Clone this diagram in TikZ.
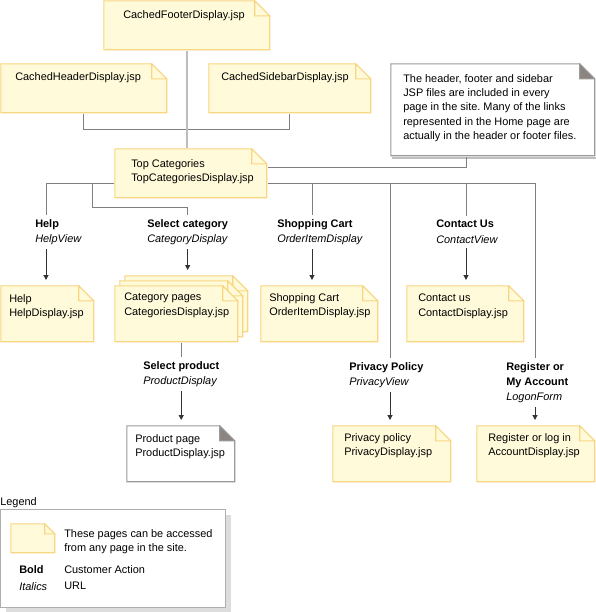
\documentclass[tikz,border=0pt]{standalone}
\usepackage{fontspec}
\setmainfont{Liberation Sans}
\frenchspacing
\usetikzlibrary{arrows.meta}
\usetikzlibrary{shadows}
\definecolor{pagefill}{HTML}{FFFBDA}
\definecolor{pageline}{HTML}{F8D581}
\definecolor{linkgray}{HTML}{7F7F7F}
\definecolor{cachegray}{HTML}{BDBDBD}
\definecolor{foldgray}{HTML}{8C8480}
\definecolor{boxline}{HTML}{9A9A9A}
\definecolor{shadowgray}{HTML}{DDDDDD}
\newcommand{\notefont}{\fontsize{8.2}{10.8}\selectfont}
\newcommand{\actfont}{\fontsize{8.2}{11.5}\selectfont}
\tikzset{
	fold size/.store in=\foldsize, fold size=11.25pt,
	dogear/.style n args={3}{anchor=north west, inner sep=0pt, shape=rectangle,
		path picture={
			\path (path picture bounding box.north west) ++(0.4pt,-0.4pt) coordinate (pnw)
			      (path picture bounding box.south east) ++(-0.4pt,0.4pt) coordinate (pse);
			\coordinate (pne) at (pnw -| pse);
			\coordinate (psw) at (pnw |- pse);
			\filldraw[fill=#1, draw=#2, line width=0.8pt]
				(pnw) -- ([xshift=-\foldsize]pne) -- ([yshift=-\foldsize]pne) -- (pse) -- (psw) -- cycle;
			\filldraw[fill=#3, draw=#2, line width=0.8pt]
				([xshift=-\foldsize]pne) -- ++(0pt,-\foldsize) -- ([yshift=-\foldsize]pne) -- cycle;
		}},
	jsp/.style 2 args={dogear={pagefill}{pageline}{pagefill}, minimum width=#1*0.75pt, minimum height=#2*0.75pt},
	info/.style 2 args={dogear={white}{boxline}{foldgray}, minimum width=#1*0.75pt, minimum height=#2*0.75pt},
	% text of a page, set in from its top left corner (in pixels)
	pagetext/.style 2 args={anchor=north west, align=left, inner sep=0pt, font=\notefont,
		xshift=#1*0.75pt, yshift=-#2*0.75pt},
	action/.style={anchor=north west, align=left, inner xsep=0pt, inner ysep=3pt, font=\actfont},
	link/.style={draw=linkgray, line width=0.75pt},
	cache/.style={draw=cachegray, line width=1.5pt},
	flow/.style={->, draw=black!80, line width=0.75pt, shorten >=3.75pt},
	legend box/.style={anchor=north west, draw=boxline!80, fill=white, inner sep=0pt, line width=0.75pt,
		minimum width=225*0.75pt, minimum height=98*0.75pt,
		drop shadow={shadow xshift=4pt, shadow yshift=-4pt, fill=shadowgray, opacity=1}},
	legend text/.style={anchor=north west, align=left, inner sep=0pt, font=\notefont}
}

\begin{document}
\begin{tikzpicture}[x=0.75pt,y=-0.75pt,>={Triangle[length=3.6pt,width=3.6pt]}]
\useasboundingbox (0,0) rectangle (596,612);

% cached fragments and the home page
\node[jsp={167}{50}, label={[pagetext={20}{10}]north west:CachedFooterDisplay.jsp}] (footer) at (103,0) {};
\node[jsp={167}{50}, label={[pagetext={15}{9}]north west:CachedHeaderDisplay.jsp}] (header) at (0,63) {};
\node[jsp={163}{50}, label={[pagetext={13}{9}]north west:CachedSidebarDisplay.jsp}] (sidebar) at (208,63) {};
\node[jsp={153}{50}, label={[pagetext={17}{11}]north west:{Top Categories\\TopCategoriesDisplay.jsp}}] (topcat) at (114,148) {};
\node[info={205}{93}, label={[pagetext={13}{11}]north west:{The header, footer and sidebar\\JSP files are included in every\\page in the site. Many of the links\\represented in the Home page are\\actually in the header or footer files.}}] (remark) at (390,63) {};
\draw[black!25, line width=1pt] ([shift={(1.1pt,-11.25pt)}]remark.north east) |- ([shift={(1.5pt,-1.1pt)}]remark.south west);

% target pages
\node[jsp={94}{57}, label={[pagetext={9}{9}]north west:{Help\\HelpDisplay.jsp}}] (help) at (0,285) {};
\node[jsp={124}{57}] (catpage c) at (124,275) {};
\node[jsp={124}{57}] (catpage b) at (119,280) {};
\node[jsp={124}{57}, label={[pagetext={10}{8}]north west:{Category pages\\CategoriesDisplay.jsp}}] (catpage) at (114,285) {};
\node[jsp={118}{57}, label={[pagetext={9}{8}]north west:{Shopping Cart\\OrderItemDisplay.jsp}}] (cart) at (260,285) {};
\node[jsp={118}{57}, label={[pagetext={12}{9}]north west:{Contact us\\ContactDisplay.jsp}}] (contact) at (406,285) {};
\node[info={109}{57}, label={[pagetext={9}{9}]north west:{Product page\\ProductDisplay.jsp}}] (product) at (126,425) {};
\node[jsp={119}{57}, label={[pagetext={12}{8}]north west:{Privacy policy\\PrivacyDisplay.jsp}}] (privacy) at (332,425) {};
\node[jsp={119}{57}, label={[pagetext={12}{8}]north west:{Register or log in\\AccountDisplay.jsp}}] (register) at (476,425) {};

% customer actions
\node[action] (lhelp) at (35,215) {\textbf{Help}\\\textit{HelpView}};
\node[action] (lcat) at (147,215) {\textbf{Select category}\\\textit{CategoryDisplay}};
\node[action] (lcart) at (277,215) {\textbf{Shopping Cart}\\\textit{OrderItemDisplay}};
\node[action] (lcontact) at (436,216) {\textbf{Contact Us}\\\textit{ContactView}};
\node[action] (lproduct) at (143,357) {\textbf{Select product}\\\textit{ProductDisplay}};
\node[action] (lprivacy) at (349,358) {\textbf{Privacy Policy}\\\textit{PrivacyView}};
\node[action] (lregister) at (506,358) {\textbf{Register or}\\\textbf{My Account}\\\textit{LogonForm}};

% connectors
\draw[link] (header.south) -- ++(0,16) -| (sidebar.south);
\draw[cache] (footer.south) -- (footer.south |- topcat.north);
\draw[link] ([xshift=-20pt]remark.south) |- ([yshift=4.5pt]topcat.east);

\coordinate (bhelp) at (46,183);
\coordinate (bcat) at (92,183);
\coordinate (bcart) at (312,183);
\coordinate (bprivacy) at (390,183);
\coordinate (bcontact) at (466,183);
\coordinate (bregister) at (535,183);

\draw[link] ([yshift=-7.5pt]topcat.west) -| (lhelp.north -| bhelp);
\draw[link] (bcat) -- ++(0,24) -| (lcat.north);
\draw[link] ([yshift=-7.5pt]topcat.east) -| (lregister.north -| bregister);
\draw[link] (bcart) -- (lcart.north -| bcart);
\draw[link] (bprivacy) -- (lprivacy.north -| bprivacy);
\draw[link] (bcontact) -- (lcontact.north -| bcontact);
\draw[link] (catpage.south -| lproduct.north) -- (lproduct.north);

\draw[flow] (lhelp.south -| bhelp) -- (help.north -| bhelp);
\draw[flow] (lcat.south) -- (lcat.south |- catpage c.north);
\draw[flow] (lcart.south -| bcart) -- (cart.north -| bcart);
\draw[flow] (lcontact.south -| bcontact) -- (contact.north -| bcontact);
\draw[flow] (lproduct.south) -- (product.north -| lproduct.south);
\draw[flow] (lprivacy.south -| bprivacy) -- (privacy.north -| bprivacy);
\draw[flow] (lregister.south -| bregister) -- (register.north -| bregister);

% legend
\node[legend box] (legend) at (0,509) {};
\node[anchor=base west, inner sep=0pt, font=\notefont] (ltitle) at ([yshift=2.5pt]legend.north west) {Legend};
\node[jsp={45}{30}, fold size=7.5pt] (sample) at (10,523) {};
\node[legend text] (lsample) at (64,529) {These pages can be accessed\\from any page in the site.};
\node[legend text] (lbold) at (19,565) {\textbf{Bold}};
\node[legend text] (lboldtxt) at (64,565) {Customer Action};
\node[legend text] (litalic) at (19,582) {\textit{Italics}};
\node[legend text] (litalictxt) at (64,582) {URL};
\end{tikzpicture}
\end{document}
